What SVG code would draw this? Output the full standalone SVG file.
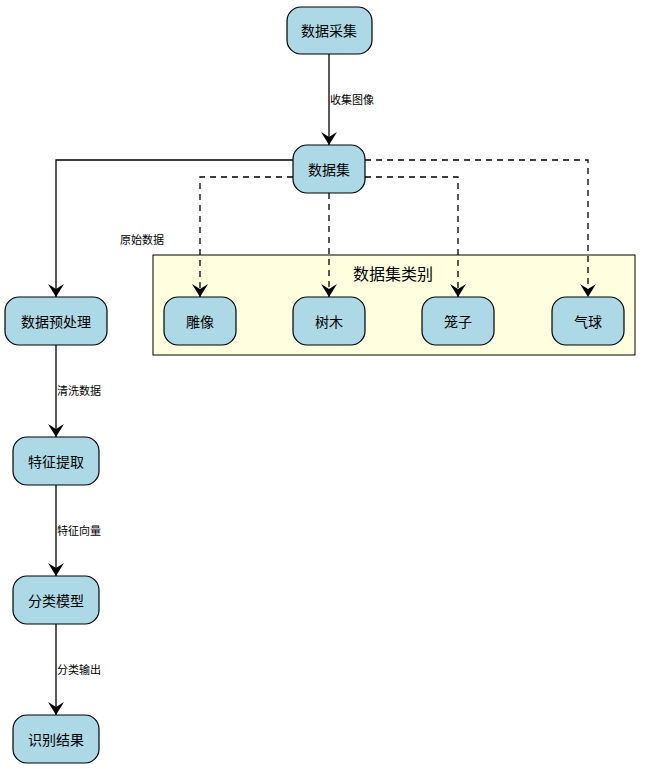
<svg xmlns="http://www.w3.org/2000/svg" width="651" height="769" viewBox="0 0 651 769">
<style>
.n rect{fill:#add8e6;stroke:#000;stroke-width:1.2}
.t{font-family:"Noto Sans CJK SC",sans-serif;font-size:14px;text-anchor:middle;dominant-baseline:central}
.l{font-family:"Noto Sans CJK SC",sans-serif;font-size:11px}
.e{fill:none;stroke:#000;stroke-width:1.3}
.d{stroke-dasharray:6,5}
</style>
<defs><marker id="a" markerWidth="14" markerHeight="20" refX="13" refY="10" orient="auto" markerUnits="userSpaceOnUse"><path d="M0,2 L13,10 L0,18 L5,10 Z" fill="#000"/></marker></defs>
<rect x="153" y="255" width="482" height="100" fill="#ffffe0" stroke="#000"/>
<text class="t" x="393" y="273" style="font-size:16px">数据集类别</text>
<g id="connectors">
<path class="e" d="M329,54 V145" marker-end="url(#a)"/>
<text class="l" x="330" y="104">收集图像</text>
<path class="e" d="M293,160 H56 V297" marker-end="url(#a)"/>
<text class="l" x="142" y="244" text-anchor="middle">原始数据</text>
<path class="e d" d="M293,177 H200 V297" marker-end="url(#a)"/>
<path class="e d" d="M329,193 V297" marker-end="url(#a)"/>
<path class="e d" d="M365,177 H458 V297" marker-end="url(#a)"/>
<path class="e d" d="M365,160 H588 V297" marker-end="url(#a)"/>
<path class="e" d="M56,345 V437" marker-end="url(#a)"/>
<text class="l" x="57" y="395">清洗数据</text>
<path class="e" d="M56,485 V576" marker-end="url(#a)"/>
<text class="l" x="57" y="535">特征向量</text>
<path class="e" d="M56,624 V715" marker-end="url(#a)"/>
<text class="l" x="57" y="674">分类输出</text>
</g>
<g id="n1" class="n"><rect x="287" y="7" width="85" height="47" rx="14"/><text class="t" x="329" y="30">数据采集</text></g>
<g id="n2" class="n"><rect x="293" y="145" width="72" height="48" rx="14"/><text class="t" x="329" y="169">数据集</text></g>
<g id="n3" class="n"><rect x="5" y="297" width="102" height="48" rx="14"/><text class="t" x="56" y="321">数据预处理</text></g>
<g id="n4" class="n"><rect x="13" y="437" width="86" height="48" rx="14"/><text class="t" x="56" y="461">特征提取</text></g>
<g id="n5" class="n"><rect x="13" y="576" width="86" height="48" rx="14"/><text class="t" x="56" y="600">分类模型</text></g>
<g id="n6" class="n"><rect x="13" y="715" width="86" height="48" rx="14"/><text class="t" x="56" y="739">识别结果</text></g>
<g id="n7" class="n"><rect x="164" y="297" width="72" height="48" rx="14"/><text class="t" x="200" y="321">雕像</text></g>
<g id="n8" class="n"><rect x="293" y="297" width="72" height="48" rx="14"/><text class="t" x="329" y="321">树木</text></g>
<g id="n9" class="n"><rect x="422" y="297" width="72" height="48" rx="14"/><text class="t" x="458" y="321">笼子</text></g>
<g id="n10" class="n"><rect x="552" y="297" width="72" height="48" rx="14"/><text class="t" x="588" y="321">气球</text></g>
</svg>
